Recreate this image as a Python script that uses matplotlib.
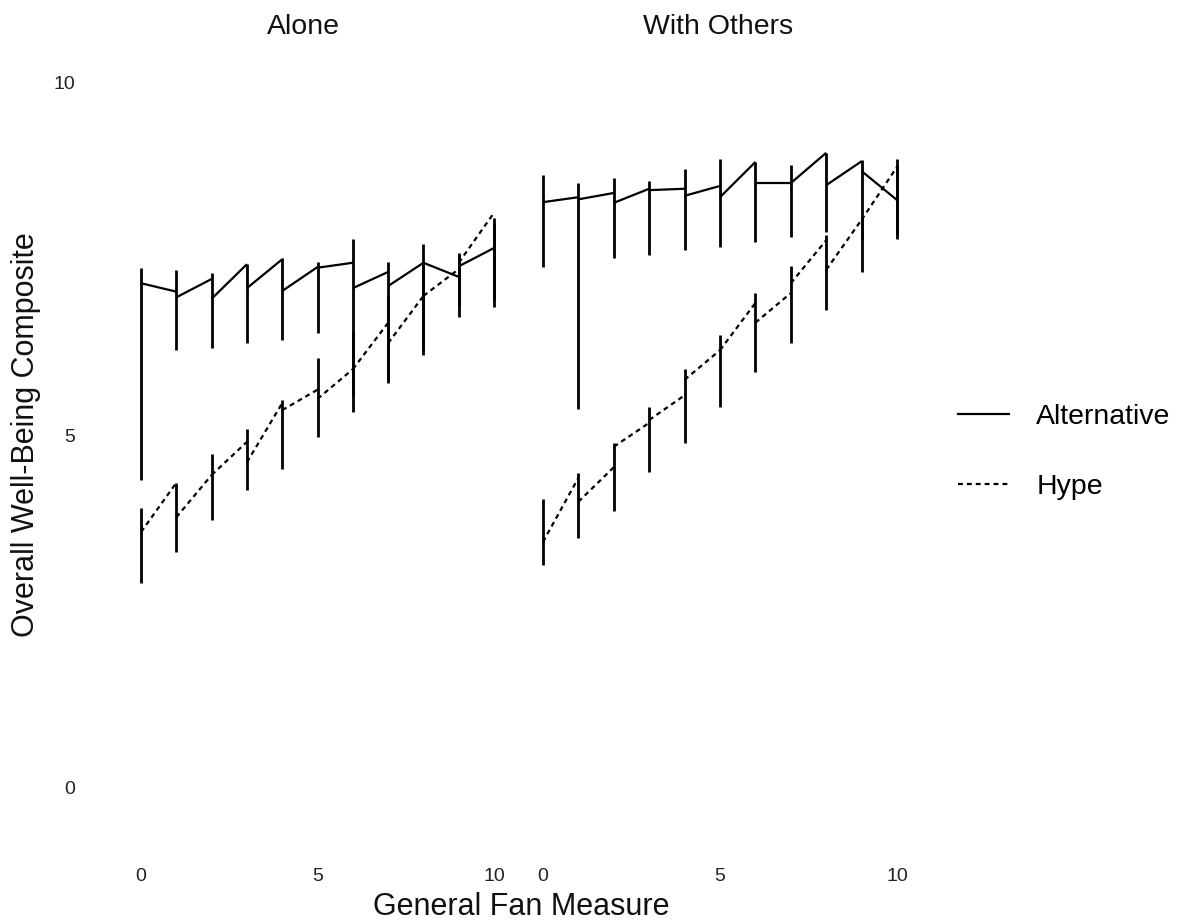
import numpy as np
import matplotlib
matplotlib.use("Agg")
import matplotlib.pyplot as plt
from matplotlib.lines import Line2D

plt.rcParams['font.family'] = ['Liberation Sans', 'DejaVu Sans']

fan = np.arange(11)
panels = ['Alone', 'With Others']

# error bar ranges at each fan score
alone_alt_lo = [4.37, 6.21, 6.24, 6.31, 6.35, 6.45, 5.57, 5.74, 6.14, 6.68, 6.82]
alone_alt_hi = [7.38, 7.35, 7.30, 7.43, 7.52, 7.46, 7.79, 7.46, 7.72, 7.59, 8.00]
alone_hype_lo = [2.91, 3.35, 3.80, 4.23, 4.52, 4.98, 5.33, 5.79, 6.21, 6.85, 6.92]
alone_hype_hi = [3.97, 4.33, 4.74, 5.09, 5.50, 6.10, 6.47, 6.99, 7.46, 7.56, 8.09]
others_alt_lo = [7.39, 5.38, 7.52, 7.56, 7.63, 7.67, 7.74, 7.82, 7.89, 7.77, 7.79]
others_alt_hi = [8.70, 8.58, 8.65, 8.61, 8.78, 8.92, 8.88, 8.84, 9.01, 8.91, 8.92]
others_hype_lo = [3.16, 3.55, 3.93, 4.48, 4.89, 5.40, 5.90, 6.31, 6.78, 7.32, 7.84]
others_hype_hi = [4.10, 4.47, 4.89, 5.40, 5.94, 6.43, 7.02, 7.40, 7.84, 8.13, 8.84]

# fitted line pieces between neighbouring fan scores (value at left end, right end)
alone_alt_start = [7.16, 6.96, 6.94, 7.09, 7.05, 7.38, 7.09, 7.12, 7.45, 7.40]
alone_alt_end = [7.04, 7.22, 7.43, 7.50, 7.39, 7.45, 7.32, 7.45, 7.25, 7.66]
alone_hype_start = [3.63, 3.84, 4.44, 4.62, 5.36, 5.52, 5.94, 6.31, 6.98, 7.45]
alone_hype_end = [4.33, 4.44, 4.91, 5.46, 5.65, 5.94, 6.60, 6.98, 7.36, 8.16]
others_alt_start = [8.31, 8.35, 8.30, 8.48, 8.40, 8.38, 8.58, 8.58, 8.55, 8.75]
others_alt_end = [8.38, 8.44, 8.50, 8.50, 8.54, 8.88, 8.58, 9.01, 8.89, 8.34]
others_hype_start = [3.49, 4.06, 4.84, 5.22, 5.79, 6.21, 6.60, 7.16, 7.35, 8.06]
others_hype_end = [4.40, 4.55, 5.18, 5.57, 6.21, 6.88, 7.02, 7.77, 8.06, 8.81]

data = {
    'Alone': {
        'Alternative': (alone_alt_lo, alone_alt_hi, alone_alt_start, alone_alt_end),
        'Hype': (alone_hype_lo, alone_hype_hi, alone_hype_start, alone_hype_end),
    },
    'With Others': {
        'Alternative': (others_alt_lo, others_alt_hi, others_alt_start, others_alt_end),
        'Hype': (others_hype_lo, others_hype_hi, others_hype_start, others_hype_end),
    },
}
styles = {'Alternative': '-', 'Hype': (0, (2.2, 1.8))}

W, H = 1180, 923
fig = plt.figure(figsize=(W / 100, H / 100), dpi=100)

def box(x0, x1, y0, y1):
    return [x0 / W, 1 - y1 / H, (x1 - x0) / W, (y1 - y0) / H]

axes = [fig.add_axes(box(123.4, 511.7, 47.75, 862)),
        fig.add_axes(box(525.3, 914.7, 47.75, 862))]

for ax, panel in zip(axes, panels):
    for series in ['Alternative', 'Hype']:
        lo, hi, start, end = data[panel][series]
        ax.vlines(fan, lo, hi, colors='black', linewidth=2.0)
        for i in range(len(fan) - 1):
            ax.plot([fan[i], fan[i + 1]], [start[i], end[i]], color='black',
                    linewidth=1.6, linestyle=styles[series],
                    solid_capstyle='butt')
    ax.set_xlim(-0.5, 10.5)
    ax.set_ylim(-1.05, 10.5)
    ax.set_xticks([0, 5, 10])
    ax.set_yticks([0, 5, 10])
    for s in ax.spines.values():
        s.set_visible(False)
    ax.tick_params(length=0, labelsize=14, colors='#222222')
    ax.tick_params(axis='x', pad=4)
    ax.tick_params(axis='y', pad=35)
    ax.patch.set_visible(False)

axes[1].tick_params(axis='y', labelleft=False)

fig.text(303 / W, 1 - 27 / H, 'Alone', ha='center', va='center', fontsize=20.5, color='#111111')
fig.text(718 / W, 1 - 27 / H, 'With Others', ha='center', va='center', fontsize=20.5, color='#111111')
fig.text(521 / W, 1 - 907 / H, 'General Fan Measure', ha='center', va='center', fontsize=22, color='#111111')
fig.text(26 / W, 1 - 435 / H, 'Overall Well-Being Composite', ha='center', va='center',
         rotation=90, fontsize=22, color='#111111')

handles = [Line2D([], [], color='black', linewidth=1.6, linestyle=styles[s]) for s in ['Alternative', 'Hype']]
fig.legend(handles, ['Alternative', 'Hype'], loc='center left',
           bbox_to_anchor=(958 / W, 1 - 452 / H), frameon=False, fontsize=20.5,
           handlelength=1.8, handletextpad=0.95, labelspacing=1.55,
           borderpad=0, borderaxespad=0)

fig.savefig('out.png', dpi=100)
